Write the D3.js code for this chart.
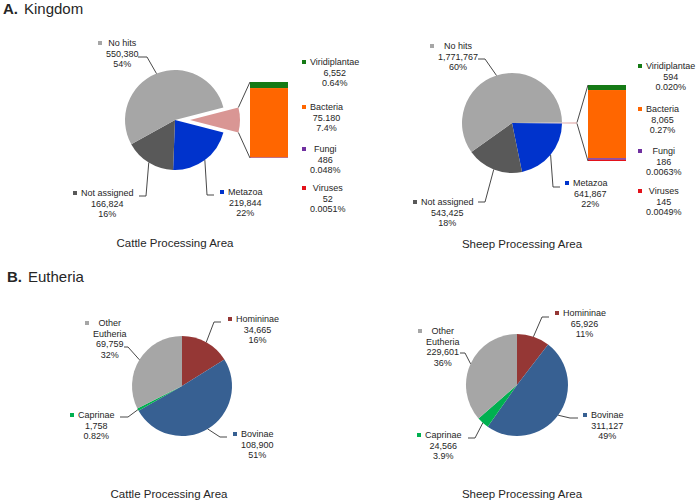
<!DOCTYPE html>
<html>
<head>
<meta charset="utf-8">
<script src="https://cdn.jsdelivr.net/npm/d3@7"></script>
<style>
body { margin: 0; background: #fff; }
text { font-family: "Liberation Sans", Arial, sans-serif; fill: #262626; }
</style>
</head>
<body>
<svg id="chart" width="697" height="504"></svg>
<script>
// ---- data ----
var kingdomMain = ["Metazoa", "Not assigned", "No hits"];
var kingdomMinor = ["Viridiplantae", "Bacteria", "Fungi", "Viruses"];

var cattleMain = [219844, 166824, 550380];
var cattleMainText = ["219,844", "166,824", "550,380"];
var cattleMainPct = ["22%", "16%", "54%"];
var cattleMinor = [6552, 75180, 486, 52];
var cattleMinorText = ["6,552", "75.180", "486", "52"];
var cattleMinorPct = ["0.64%", "7.4%", "0.048%", "0.0051%"];

var sheepMain = [641867, 543425, 1771767];
var sheepMainText = ["641,867", "543,425", "1,771,767"];
var sheepMainPct = ["22%", "18%", "60%"];
var sheepMinor = [594, 8065, 186, 145];
var sheepMinorText = ["594", "8,065", "186", "145"];
var sheepMinorPct = ["0.020%", "0.27%", "0.0063%", "0.0049%"];

var eutheriaCats = ["Homininae", "Bovinae", "Caprinae", "Other Eutheria"];
var cattleEutheria = [34665, 108900, 1758, 69759];
var cattleEutheriaText = ["34,665", "108,900", "1,758", "69,759"];
var cattleEutheriaPct = ["16%", "51%", "0.82%", "32%"];
var sheepEutheria = [65926, 311127, 24566, 229601];
var sheepEutheriaText = ["65,926", "311,127", "24,566", "229,601"];
var sheepEutheriaPct = ["11%", "49%", "3.9%", "36%"];

var panelTitles = ["Kingdom", "Eutheria"];
var areaTitles = ["Cattle Processing Area", "Sheep Processing Area"];

// ---- colours ----
var mainColor = d3.scaleOrdinal().domain(kingdomMain.concat(["Other"]))
    .range(["#0033cc", "#595959", "#a6a6a6", "#d99694"]);
var minorColor = d3.scaleOrdinal().domain(kingdomMinor)
    .range(["#157a15", "#ff6600", "#7030a0", "#e3121b"]);
var euthColor = d3.scaleOrdinal().domain(eutheriaCats)
    .range(["#953735", "#376092", "#00b050", "#a6a6a6"]);

var svg = d3.select("#chart");
var lineH = 10.5;

// key square + centred text box, like the spreadsheet data labels
function drawLabel(x, y, color, lines) {
    var g = svg.append("g");
    g.append("rect").attr("x", x).attr("y", y - 2).attr("width", 4).attr("height", 4).attr("fill", color);
    var texts = lines.map(function(s, i) {
        return g.append("text").attr("y", y + 3 + i * lineH).style("font-size", "9px").text(s);
    });
    var w = d3.max(texts, function(t) { return t.node().getComputedTextLength(); });
    texts.forEach(function(t) { t.attr("x", x + 8 + w / 2).attr("text-anchor", "middle"); });
}

function leader(p0, pts) {
    svg.append("path")
        .attr("d", d3.line()([p0].concat(pts)))
        .attr("fill", "none").attr("stroke", "#333").attr("stroke-width", 0.9);
}

// ---- pie of pie (kingdom) ----
function kingdomChart(o) {
    var other = d3.sum(o.minor);
    var total = d3.sum(o.main) + other;
    var otherAng = other / total * 2 * Math.PI;
    var start = Math.PI / 2 - otherAng / 2;
    var rows = [{name: "Other", v: other}].concat(o.main.map(function(v, i) { return {name: kingdomMain[i], v: v}; }));
    var arcs = d3.pie().sort(null).value(function(d) { return d.v; })
        .startAngle(start).endAngle(start + 2 * Math.PI)(rows);
    var arc = d3.arc().innerRadius(0).outerRadius(o.r);
    var edge = d3.arc().innerRadius(o.r).outerRadius(o.r);

    var g = svg.append("g").attr("transform", "translate(" + o.cx + "," + o.cy + ")");
    // exploded "other" slice
    g.append("path").attr("d", arc(arcs[0])).attr("fill", mainColor("Other"))
        .attr("transform", "translate(" + o.explode + ",0)");
    g.selectAll("path.main").data(arcs.slice(1)).enter().append("path").attr("class", "main")
        .attr("d", arc).attr("fill", function(d) { return mainColor(d.data.name); });

    // stacked bar of the minor kingdoms
    var y = d3.scaleLinear().domain([0, other]).range([-o.barH / 2, o.barH / 2]);
    var cum = [0].concat(Array.from(d3.cumsum(o.minor)));
    g.selectAll("rect.bar").data(o.minor).enter().append("rect").attr("class", "bar")
        .attr("x", o.barX).attr("width", o.barW)
        .attr("y", function(d, i) { return y(cum[i]); })
        .attr("height", function(d, i) { return y(cum[i + 1]) - y(cum[i]); })
        .attr("fill", function(d, i) { return minorColor(kingdomMinor[i]); });

    // connector lines from the slice to the bar
    var a0 = arcs[0].startAngle, a1 = arcs[0].endAngle;
    [[a0, y(0)], [a1, y(other)]].forEach(function(p) {
        g.append("line")
            .attr("x1", Math.sin(p[0]) * o.r + o.explode).attr("y1", -Math.cos(p[0]) * o.r)
            .attr("x2", o.barX).attr("y2", p[1])
            .attr("stroke", "#333").attr("stroke-width", 0.9);
    });

    // labels of the main pie
    arcs.slice(1).forEach(function(d, i) {
        var c = edge.centroid(d);
        leader([o.cx + c[0], o.cy + c[1]], o.leaders[i]);
        drawLabel(o.keys[i][0], o.keys[i][1], mainColor(d.data.name),
            [d.data.name, o.mainText[i], o.mainPct[i]]);
    });
    kingdomMinor.forEach(function(name, i) {
        drawLabel(o.minorX, o.minorY[i], minorColor(name), [name, o.minorText[i], o.minorPct[i]]);
    });
}

// ---- simple pie (eutheria) ----
function eutheriaChart(o) {
    var arcs = d3.pie().sort(null)(o.values);
    var arc = d3.arc().innerRadius(0).outerRadius(o.r);
    var edge = d3.arc().innerRadius(o.r).outerRadius(o.r);
    var g = svg.append("g").attr("transform", "translate(" + o.cx + "," + o.cy + ")");
    g.selectAll("path").data(arcs).enter().append("path")
        .attr("d", arc).attr("fill", function(d, i) { return euthColor(eutheriaCats[i]); });
    arcs.forEach(function(d, i) {
        var c = edge.centroid(d);
        leader([o.cx + c[0], o.cy + c[1]], o.leaders[i]);
        var name = eutheriaCats[i];
        var lines = name == "Other Eutheria" ? ["Other", "Eutheria"] : [name];
        drawLabel(o.keys[i][0], o.keys[i][1], euthColor(name), lines.concat([o.text[i], o.pct[i]]));
    });
}

kingdomChart({
    cx: 175, cy: 120, r: 50, explode: 15, barX: 75, barW: 38, barH: 76,
    main: cattleMain, mainText: cattleMainText, mainPct: cattleMainPct,
    minor: cattleMinor, minorText: cattleMinorText, minorPct: cattleMinorPct,
    keys: [[220, 192], [73, 193], [98, 43]],
    leaders: [[[207, 195], [214, 195]], [[146, 196], [139, 196]], [[147, 57], [138, 57]]],
    minorX: 302, minorY: [62, 107, 149, 188]
});
kingdomChart({
    cx: 512, cy: 123, r: 50, explode: 15, barX: 76, barW: 38, barH: 76,
    main: sheepMain, mainText: sheepMainText, mainPct: sheepMainPct,
    minor: sheepMinor, minorText: sheepMinorText, minorPct: sheepMinorPct,
    keys: [[565, 183], [413, 202], [430, 46]],
    leaders: [[[553, 187], [560, 187]], [[485, 202], [478, 202]], [[485, 59], [478, 59]]],
    minorX: 638, minorY: [66, 109, 151, 191]
});
eutheriaChart({
    cx: 182, cy: 386, r: 50, values: cattleEutheria, text: cattleEutheriaText, pct: cattleEutheriaPct,
    keys: [[228, 319], [233, 434], [70, 415], [85, 323]],
    leaders: [[[214, 322], [221, 322]], [[220, 437], [227, 437]], [[128, 417], [120, 417]], [[128, 347], [124, 347]]]
});
eutheriaChart({
    cx: 517, cy: 385, r: 51, values: sheepEutheria, text: sheepEutheriaText, pct: sheepEutheriaPct,
    keys: [[555, 313], [583, 415], [417, 435], [418, 331]],
    leaders: [[[542, 317], [549, 317]], [[570, 418], [578, 418]], [[475, 438], [468, 438]], [[465, 353], [460, 353]]]
});

// ---- titles ----
[[3, 14, "A.", panelTitles[0]], [7, 282, "B.", panelTitles[1]]].forEach(function(t) {
    var tx = svg.append("text").attr("x", t[0]).attr("y", t[1]).style("font-size", "15px");
    tx.append("tspan").style("font-weight", "bold").text(t[2]);
    tx.append("tspan").attr("dx", 6).text(t[3]);
});
[[175, 247], [522, 248], [169, 498], [522, 498]].forEach(function(p, i) {
    svg.append("text").attr("x", p[0]).attr("y", p[1]).attr("text-anchor", "middle")
        .style("font-size", "11.5px").text(areaTitles[i % 2]);
});
</script>
</body>
</html>
